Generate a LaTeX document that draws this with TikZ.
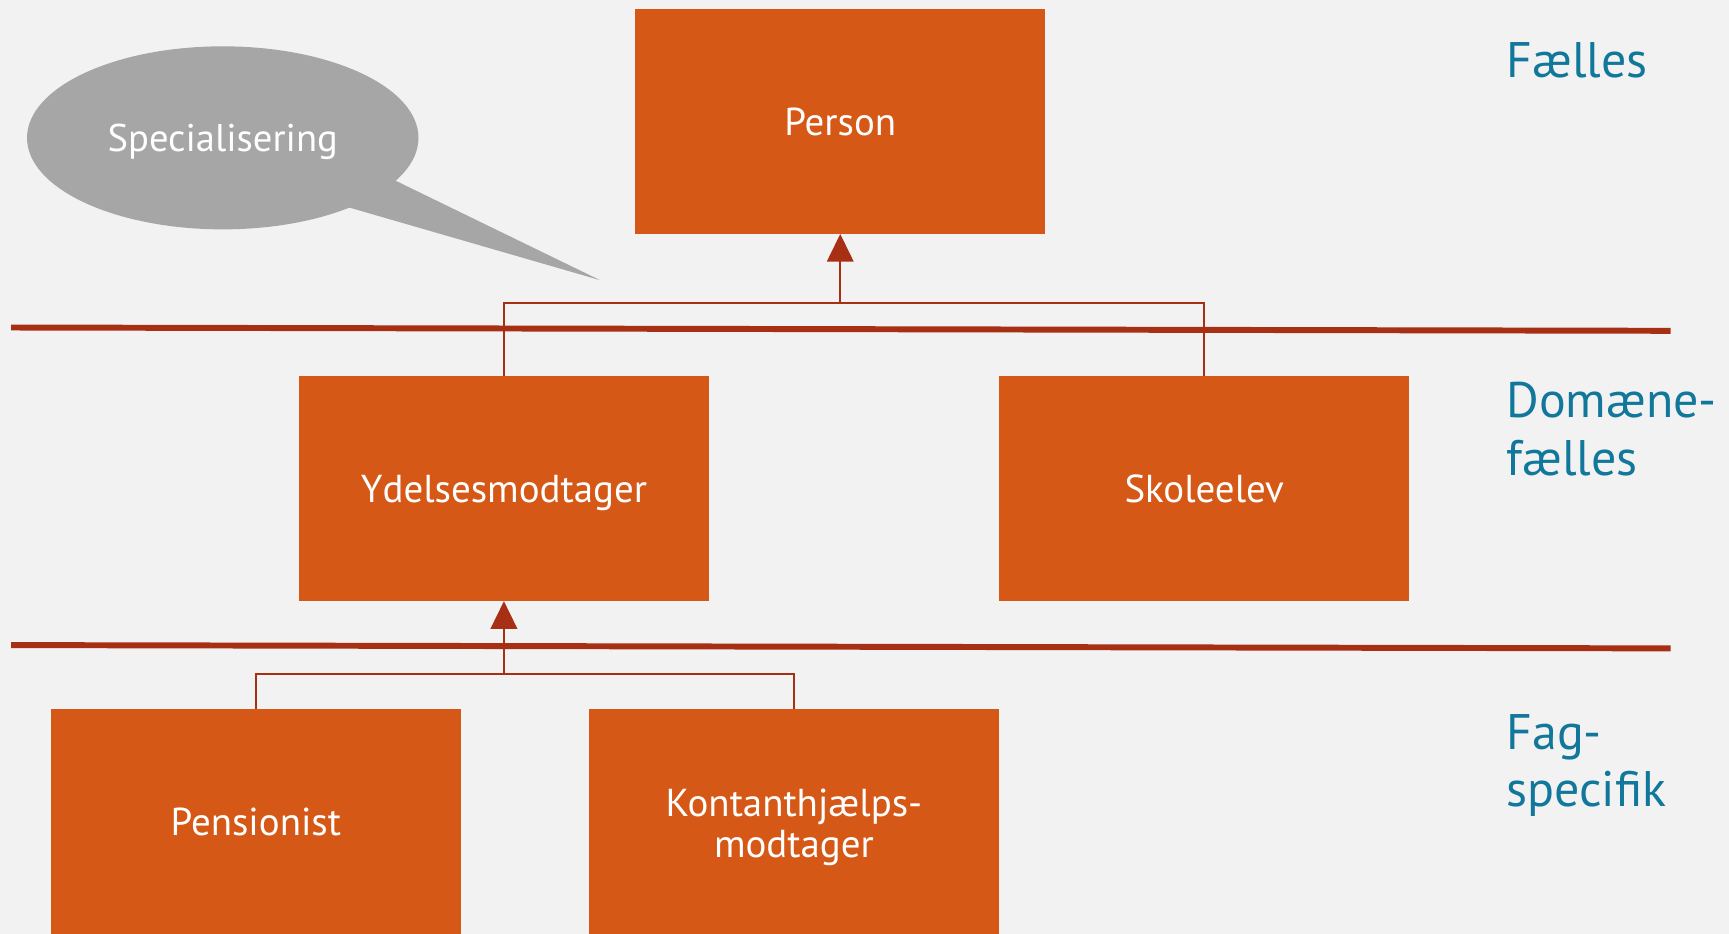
\documentclass[tikz,border=0pt]{standalone}
\usepackage{fontspec}
\setmainfont{PT Sans}
\usetikzlibrary{arrows.meta,shapes.geometric}
\definecolor{boxorange}{RGB}{213,88,23}
\definecolor{linered}{RGB}{166,47,20}
\definecolor{bubblegrey}{RGB}{166,166,166}
\definecolor{levelteal}{RGB}{18,120,155}
\definecolor{bggrey}{RGB}{242,242,242}
\begin{document}
\begin{tikzpicture}[x=1pt, y=-1pt, node distance=333pt,
  box/.style={rectangle, fill=boxorange, minimum width=372pt, minimum height=204pt, inner sep=0pt, text=white, align=center, text height=25pt, text depth=0pt, font=\fontsize{35.3}{37}\selectfont},
  level/.style={anchor=west, inner sep=0pt, align=left, text=levelteal, font=\fontsize{45.3}{52}\selectfont},
  conn/.style={draw=linered, line width=1.8pt},
  arr/.style={conn, -{Triangle[width=24pt,length=25pt]}},
  sep/.style={draw=linered, line width=5.4pt}]
\fill[bggrey] (0,0) rectangle (1568,847);
\useasboundingbox (0,0) rectangle (1568,847);

\node (person) [box] at (762,110) {Person};
\node (ydelse) [box, below of=person, xshift=-305pt] {Ydelsesmodtager};
\node (skoleelev) [box, right of=ydelse, xshift=302pt] {Skoleelev};
\node (pensionist) [box, below of=ydelse, yshift=31pt, xshift=-225pt] {Pensionist};
\node (kontant) [box, right of=pensionist, xshift=155pt, yshift=-5pt, minimum height=214pt, text height=, text depth=] {Kontanthjælps-\\modtager};

\node (bubble) [ellipse, fill=bubblegrey, minimum width=355pt, minimum height=166pt, inner sep=0pt, text=white, text height=25pt, text depth=0pt, font=\fontsize{35}{40}\selectfont] at (202,125) {Specialisering};
\fill[bubblegrey] (359,164) -- (544,254) -- (316,188) -- (300,150) -- cycle;

\node (faelles) [level] at (1366,55) {Fælles};
\node (domaene) [level] at (1366,389) {Domæne-\\fælles};
\node (fag) [level] at (1366,694) {Fag-\\specifik};

\draw[sep] (10,297) -- (1515,300);
\draw[sep] (10,585) -- (1515,588);

\coordinate (top fork) at (762,275);
\coordinate (low fork) at (457,611);
\draw[conn] (ydelse.north) |- (top fork) -| (skoleelev.north);
\draw[arr] (top fork) -- (person.south);
\draw[conn] (pensionist.north) |- (low fork) -| (kontant.north);
\draw[arr] (low fork) -- (ydelse.south);

\end{tikzpicture}
\end{document}
